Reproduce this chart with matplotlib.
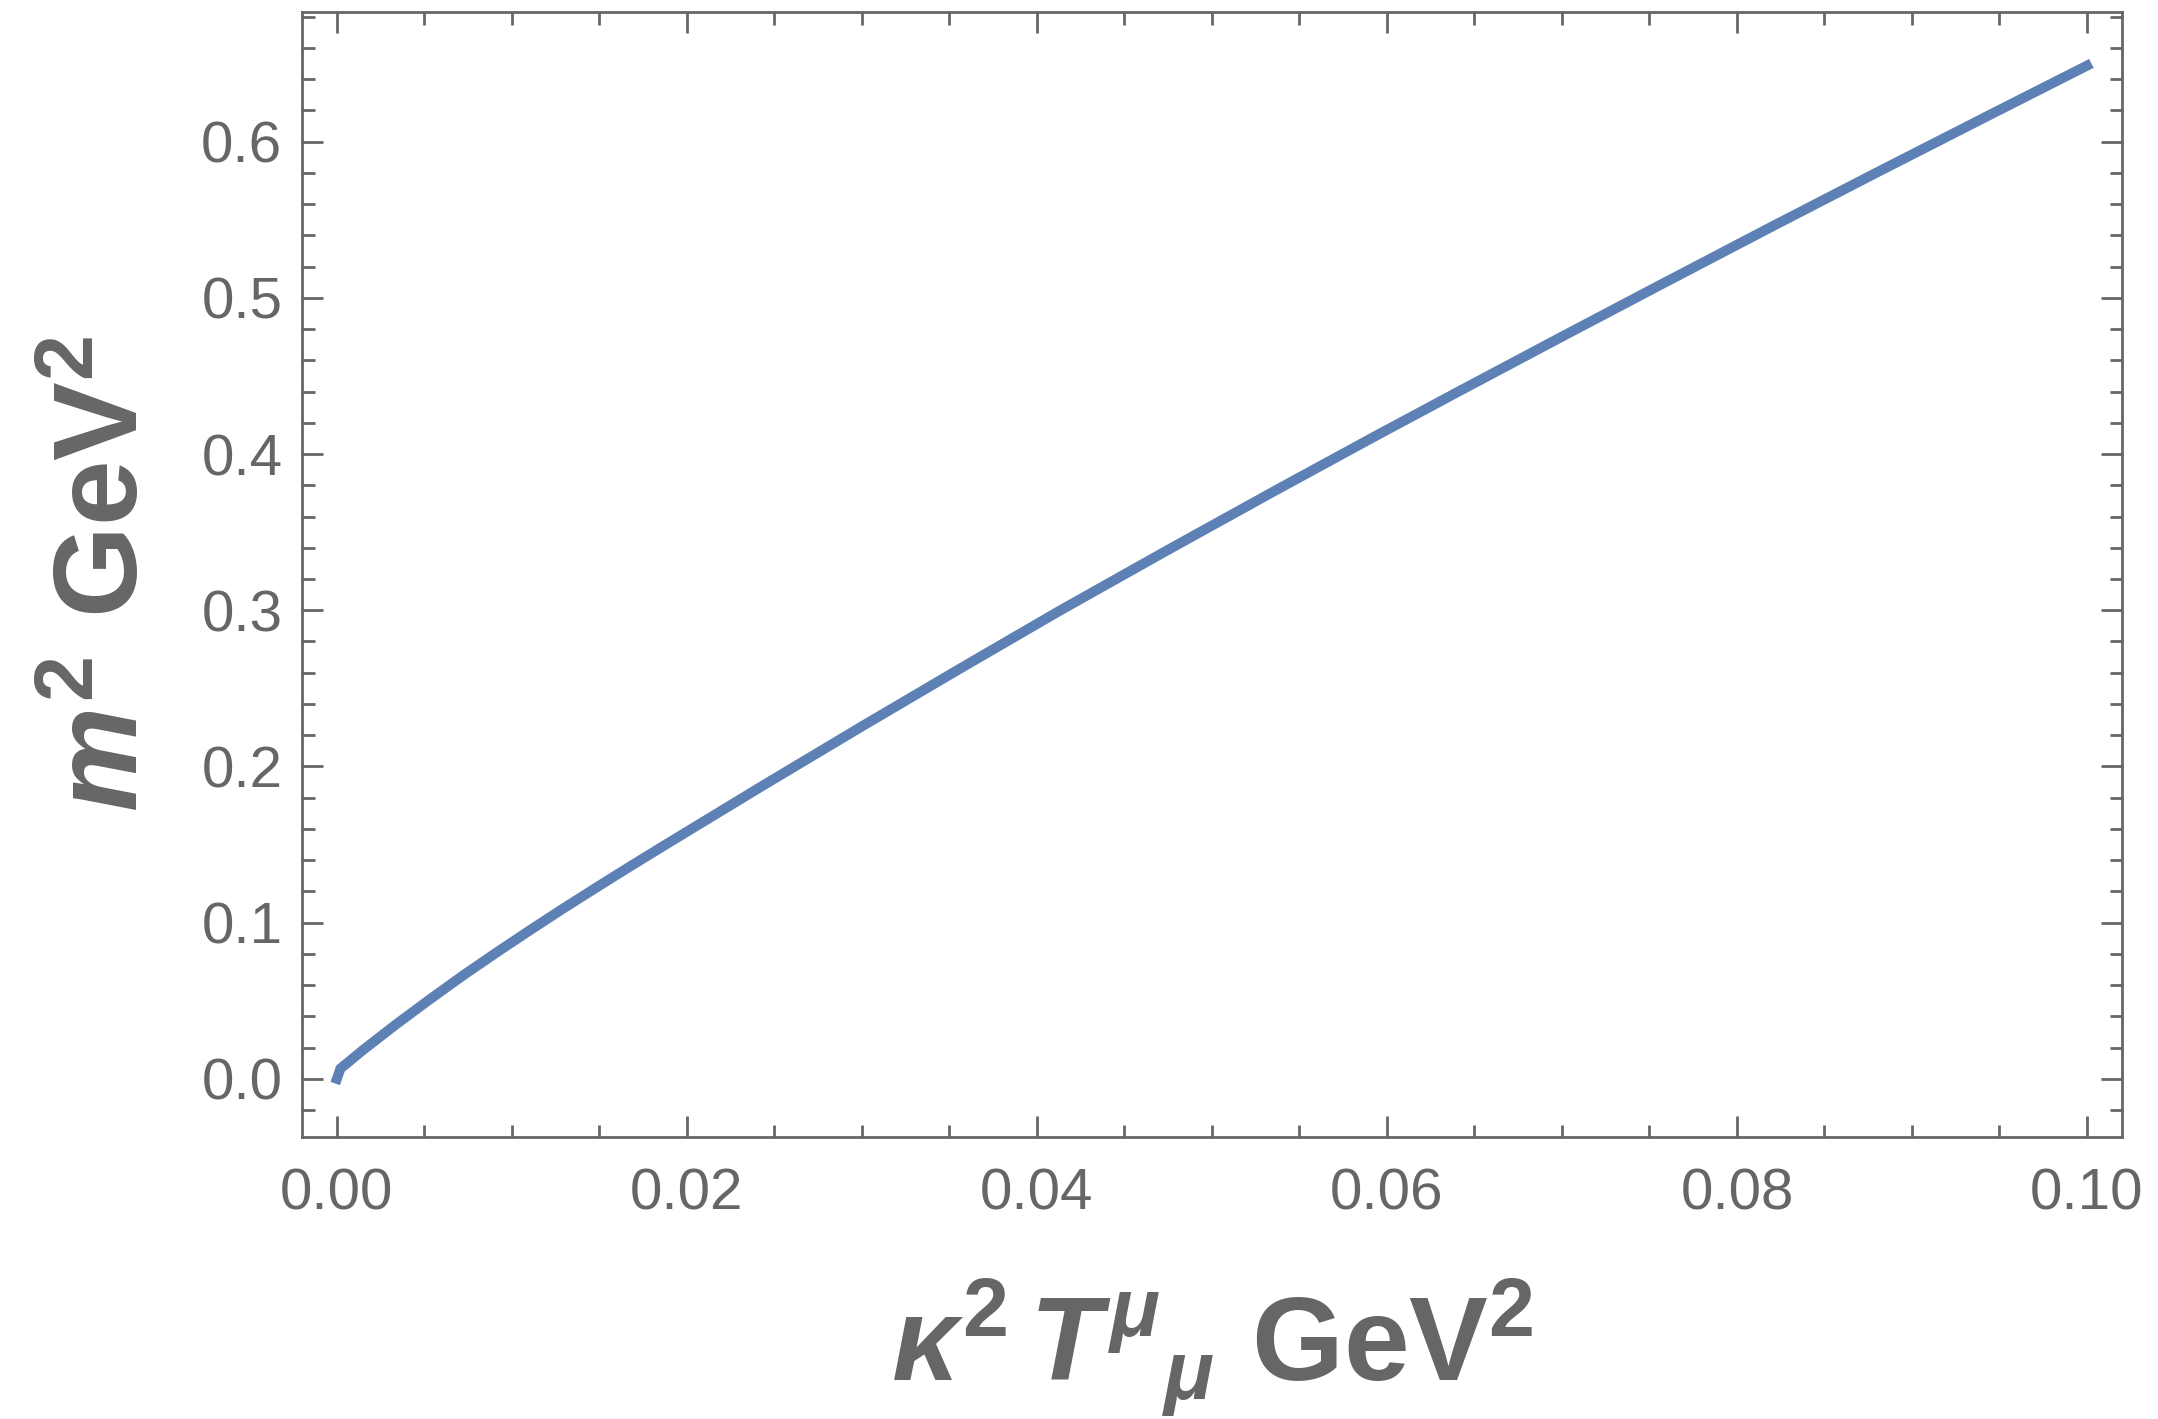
import matplotlib
matplotlib.use("Agg")
import matplotlib.pyplot as plt
from matplotlib.ticker import MultipleLocator, FormatStrFormatter

# trace of the energy-momentum tensor (kappa^2 T^mu_mu, GeV^2) vs mass squared
trace_T = [0.0, 0.0002, 0.0015, 0.0034, 0.0053, 0.0072, 0.0091, 0.0110, 0.0129,
           0.0148, 0.0167, 0.0185, 0.0242, 0.0299, 0.0356, 0.0413, 0.0474,
           0.0535, 0.0594, 0.0642, 0.0699, 0.0756, 0.0819, 0.0882, 0.0945, 0.1000]
mass_sq = [0.0, 0.0065, 0.0185, 0.0350, 0.0508, 0.0661, 0.0807, 0.0949, 0.1088,
           0.1223, 0.1356, 0.1480, 0.1868, 0.2250, 0.2626, 0.2997, 0.3381,
           0.3759, 0.4119, 0.4407, 0.4746, 0.5082, 0.5451, 0.5815, 0.6175, 0.6487]

x_ticks = [0.0, 0.02, 0.04, 0.06, 0.08, 0.10]
y_ticks = [0.0, 0.1, 0.2, 0.3, 0.4, 0.5, 0.6]

grey = "#666666"
line_blue = "#5E81B5"

plt.rcParams["font.family"] = ["Liberation Sans", "DejaVu Sans"]
plt.rcParams["mathtext.fontset"] = "custom"
plt.rcParams["mathtext.rm"] = "Liberation Sans:bold"
plt.rcParams["mathtext.bf"] = "Liberation Sans:bold"
plt.rcParams["mathtext.it"] = "Liberation Sans:bold:italic"

fig = plt.figure(figsize=(21.58, 14.19), dpi=100)
ax = fig.add_axes([0.1399, 0.1987, 0.9833 - 0.1399, 0.9918 - 0.1987])

ax.plot(trace_T, mass_sq, color=line_blue, lw=7.2, solid_joinstyle="miter")

ax.set_xlim(-0.002, 0.102)
ax.set_ylim(-0.0373, 0.6833)

ax.set_xticks(x_ticks)
ax.set_yticks(y_ticks)
ax.xaxis.set_minor_locator(MultipleLocator(0.005))
ax.yaxis.set_minor_locator(MultipleLocator(0.02))
ax.xaxis.set_major_formatter(FormatStrFormatter("%.2f"))
ax.yaxis.set_major_formatter(FormatStrFormatter("%.1f"))

for s in ax.spines.values():
    s.set_color(grey)
    s.set_linewidth(2.0)

ax.tick_params(which="both", direction="in", top=True, right=True,
               color=grey, width=2.0, labelcolor=grey, labelsize=42)
ax.tick_params(which="major", length=15)
ax.tick_params(which="minor", length=9)
ax.tick_params(axis="x", which="major", pad=22)
ax.tick_params(axis="y", which="major", pad=14)

# axis titles, centred on the frame
fig.text(0.5617, 0.0275, r"$\kappa^2\,T^{\mu}{}_{\mu}\ \mathrm{GeV}^2$",
         color=grey, fontsize=85, ha="center", va="baseline")
fig.text(0.0639, 0.5955, r"$m^2\ \mathrm{GeV}^2$", color=grey, fontsize=85,
         ha="center", va="baseline", rotation=90, rotation_mode="anchor")

fig.savefig("out.png", dpi=100, facecolor="white")
